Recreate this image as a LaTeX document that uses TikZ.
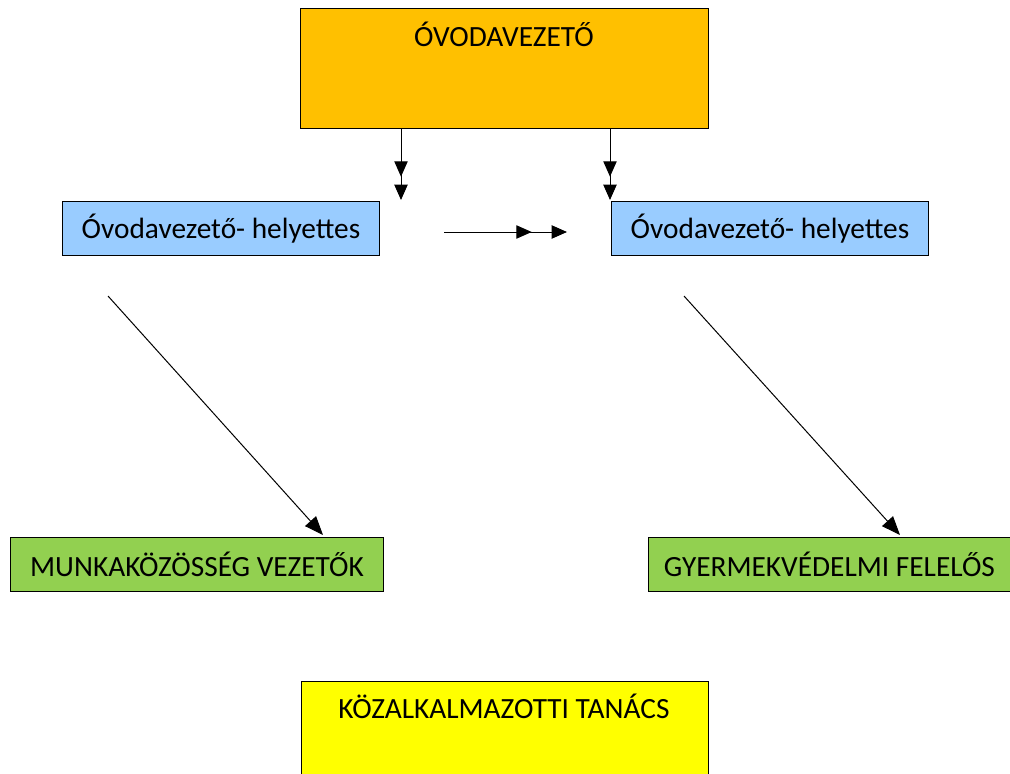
\documentclass[tikz,border=0pt]{standalone}
\usepackage{fontspec}
\setmainfont{Carlito}
\usetikzlibrary{arrows.meta}

\definecolor{vezetoszin}{HTML}{FFC000}
\definecolor{helyettesszin}{HTML}{99CCFF}
\definecolor{vezetokszin}{HTML}{92D050}
\definecolor{tanacsszin}{HTML}{FFFF00}

\begin{document}
\begin{tikzpicture}
	[x=0.75pt, y=-0.75pt,
	 every node/.style={black,inner sep=0pt,font=\fontsize{22pt}{26pt}\selectfont},
	 every path/.style={black,line width=0.75pt},
	 doboz/.style={draw,rectangle,anchor=north west,inner sep=0pt},
	 felirat/.style={anchor=base},
	 ketfej/.style={-{Triangle[length=11.5pt,width=10pt,sep=#1]Triangle[length=11.5pt,width=10pt]}},
	 ferde/.style={-{Triangle[length=14pt,width=11pt]}} ]

\useasboundingbox (0,0) rectangle (1010,774);

\node [doboz,fill=vezetoszin,minimum width=306pt,minimum height=90pt] (vezeto) at (300,8) {};
\node [felirat] (vezetocim) at (504,47) {ÓVODAVEZETŐ};

\node [doboz,fill=helyettesszin,minimum width=237.75pt,minimum height=40.5pt] (helyettesA) at (62,201) {Óvodavezető- helyettes};
\node [doboz,fill=helyettesszin,minimum width=237.75pt,minimum height=40.5pt] (helyettesB) at (611,201) {Óvodavezető- helyettes};

\node [doboz,fill=vezetokszin,minimum width=279.75pt,minimum height=40.5pt] (munkakozosseg) at (10,537) {MUNKAKÖZÖSSÉG VEZETŐK};
\node [doboz,fill=vezetokszin,minimum width=271.5pt,minimum height=40.5pt] (gyermekvedelmi) at (648,537) {GYERMEKVÉDELMI FELELŐS};

\node [doboz,fill=tanacsszin,minimum width=305.25pt,minimum height=72pt] (kozalkalmazotti) at (301,681) {};
\node [felirat] (tanacscim) at (504,718) {KÖZALKALMAZOTTI TANÁCS};

% free ends
\coordinate (balveg) at (401,200);
\coordinate (jobbveg) at (610,200);
\coordinate (nyilkezd) at (444,232);
\coordinate (nyilveg) at (567,232);
\coordinate (ferdeA) at (108,296);
\coordinate (ferdeAveg) at (323,535);
\coordinate (ferdeB) at (684,296);
\coordinate (ferdeBveg) at (900,535);

\draw [ketfej=6pt] (vezeto.south -| balveg) -- (balveg);
\draw [ketfej=6pt] (vezeto.south -| jobbveg) -- (jobbveg);
\draw [ketfej=15pt] (nyilkezd) -- (nyilveg);

\draw [ferde] (ferdeA) -- (ferdeAveg);
\draw [ferde] (ferdeB) -- (ferdeBveg);

\end{tikzpicture}
\end{document}
